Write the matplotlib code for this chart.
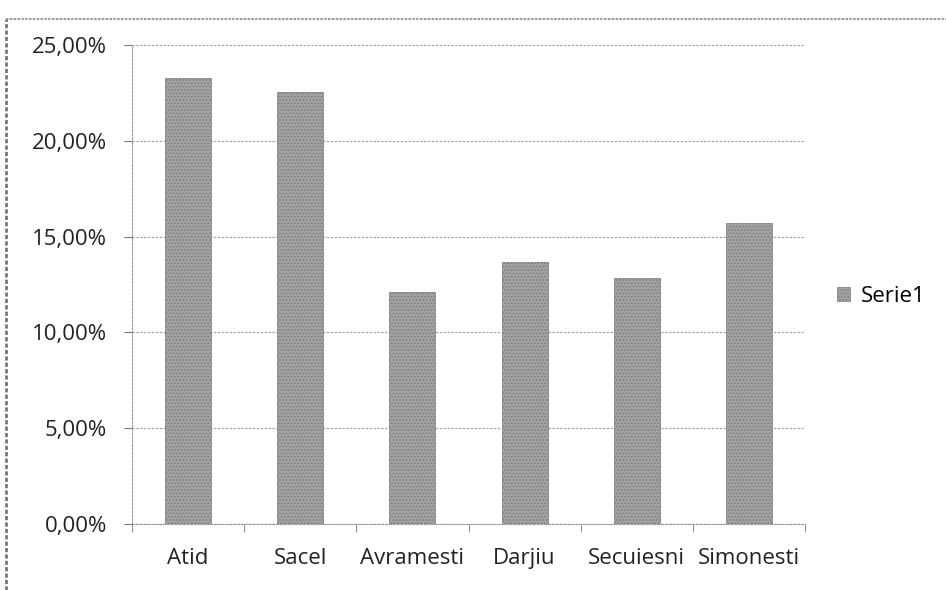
import numpy as np
import matplotlib.pyplot as plt
from matplotlib.lines import Line2D
from matplotlib.ticker import FuncFormatter

villages = ["Atid", "Sacel", "Avramesti", "Darjiu", "Secuiesni", "Simonesti"]
serie1 = [23.3, 22.55, 12.1, 13.7, 12.85, 15.7]
yticks = [0, 5, 10, 15, 20, 25]

plt.rcParams['font.family'] = ['Open Sans', 'DejaVu Sans']
plt.rcParams['hatch.color'] = '#5a5a5a'
plt.rcParams['hatch.linewidth'] = 0.7

fig = plt.figure(figsize=(9.46, 5.90), dpi=100)
# scanned page border, only top and left visible
fig.lines.append(Line2D([6/946, 6/946], [0, 1 - 19/590], transform=fig.transFigure,
                        color='#777777', linewidth=2, linestyle=(0, (1.5, 0.8))))
fig.lines.append(Line2D([6/946, 1], [1 - 19/590, 1 - 19/590], transform=fig.transFigure,
                        color='#888888', linewidth=1.2, linestyle=(0, (1.5, 0.8))))

ax = fig.add_axes([132/946, 1 - 524/590, (805-132)/946, (524-45)/590])

x = np.arange(len(villages))
ax.bar(x, serie1, width=0.41, color='#a2a2a2', hatch='.....', edgecolor='#7a7a7a',
       linewidth=0.5, label='Serie1', zorder=3)

ax.set_xlim(-0.5, len(villages) - 0.5)
ax.set_ylim(0, 25)
ax.set_yticks(yticks)
ax.yaxis.set_major_formatter(FuncFormatter(lambda v, p: f"{v:.2f}%".replace('.', ',')))
ax.set_xticks(x)
ax.set_xticklabels(villages)
ax.set_xticks(np.arange(-0.5, len(villages), 1), minor=True)
ax.tick_params(axis='x', which='major', length=0, pad=17, labelsize=16, colors='#222222')
ax.tick_params(axis='x', which='minor', length=6, direction='out', color='#777777')
ax.tick_params(axis='y', length=6, color='#777777', labelsize=16, labelcolor='#222222', pad=12)

ax.grid(axis='y', color='#999999', linestyle=(0, (2, 1.5)), linewidth=0.8, zorder=0)
for s in ['top', 'right']:
    ax.spines[s].set_visible(False)
ax.spines['left'].set_color('#999999')
ax.spines['left'].set_linestyle((0, (2, 1.5)))
ax.spines['bottom'].set_color('#999999')
ax.spines['bottom'].set_linestyle((0, (2, 1.5)))

ax.legend(loc='center left', bbox_to_anchor=(1.035, 0.475), frameon=False, fontsize=16,
          handlelength=0.55, handleheight=0.55, handletextpad=0.5, borderaxespad=0)

fig.savefig('out.png', dpi=100)
